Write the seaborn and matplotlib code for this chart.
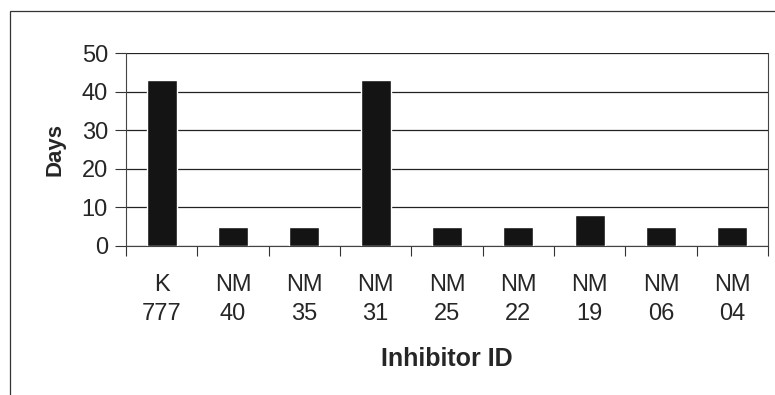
import numpy as np
import seaborn as sns
import matplotlib.pyplot as plt
from matplotlib.patches import Rectangle

inhibitors = ['K\n777', 'NM\n40', 'NM\n35', 'NM\n31', 'NM\n25', 'NM\n22', 'NM\n19', 'NM\n06', 'NM\n04']
days = [43, 5, 5, 43, 5, 5, 8, 5, 5]

sns.set_style('white')
plt.rcParams['font.family'] = ['Liberation Sans', 'DejaVu Sans']

fig = plt.figure(figsize=(7.75, 3.95), dpi=100)
ax = fig.add_axes([126/775, 1 - 246/395, 642/775, 193/395])

sns.barplot(x=inhibitors, y=days, color='#141414', width=0.42,
	saturation=1, ax=ax, zorder=3)

ax.set_ylim(0, 50)
ax.set_xlim(-0.5, len(inhibitors) - 0.5)
ax.set_yticks(np.arange(0, 51, 10))
ax.yaxis.grid(True, color='#222222', linewidth=0.9)
ax.set_axisbelow(True)

# ticks between categories, labels centred without ticks
ax.set_xticks(np.arange(-0.5, len(inhibitors), 1), minor=True)
ax.tick_params(axis='x', which='minor', bottom=True, length=7, width=0.8, color='#333333', direction='out')
ax.tick_params(axis='x', which='major', bottom=True, length=0, pad=20, labelsize=17)
ax.tick_params(axis='y', left=True, length=8, width=0.8, color='#333333', labelsize=17, pad=5)
for lab in ax.get_xticklabels():
	lab.set_linespacing(1.4)

for side in ['left', 'bottom', 'right']:
	ax.spines[side].set_visible(True)
	ax.spines[side].set_color('#444444')
	ax.spines[side].set_linewidth(0.8)
ax.spines['top'].set_visible(False)

ax.set_ylabel('Days', fontsize=16, fontweight='bold', labelpad=12)
ax.set_xlabel('Inhibitor ID', fontsize=18, fontweight='bold', labelpad=16)

# outer chart frame
fig.patches.append(Rectangle((10/775, -0.05), 1.0, 1 - 11/395 + 0.05,
	transform=fig.transFigure, fill=False, edgecolor='#333333', linewidth=0.9))

fig.savefig('out.png', dpi=100)
